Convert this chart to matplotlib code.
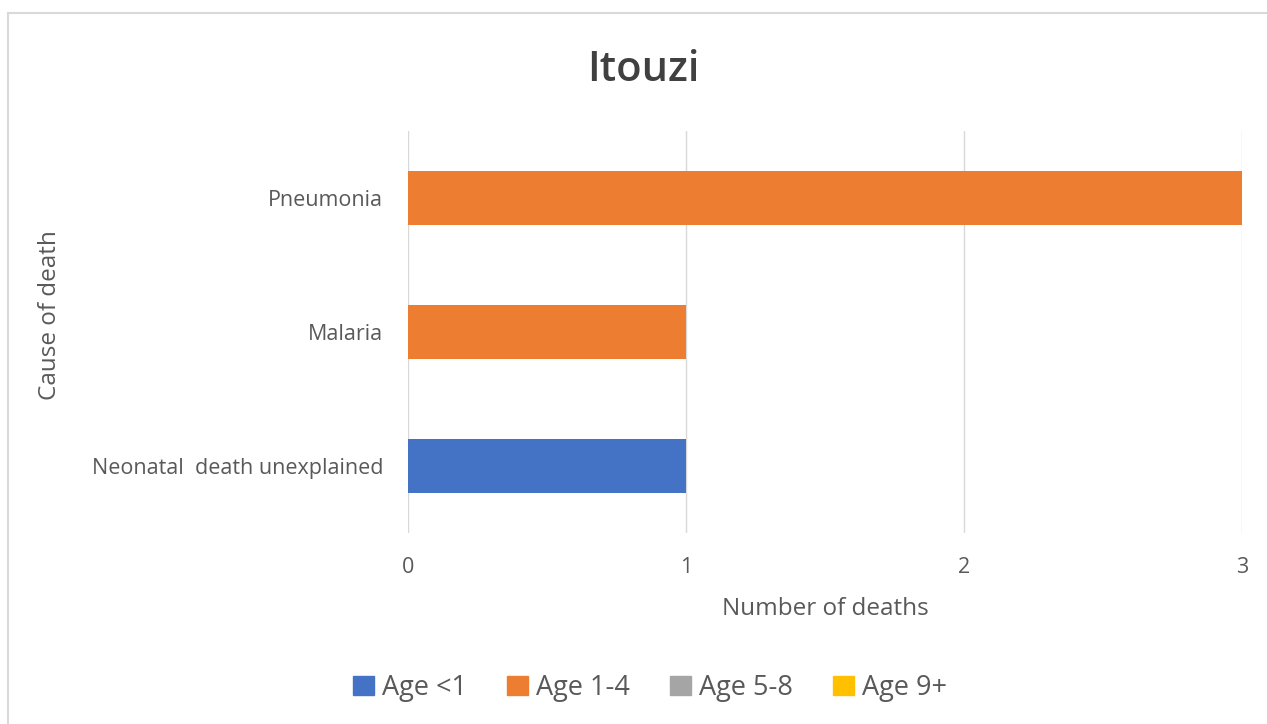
import matplotlib
matplotlib.use("Agg")
import matplotlib.pyplot as plt
import numpy as np
from matplotlib.patches import Rectangle

plt.rcParams['font.family'] = ['Open Sans', 'DejaVu Sans']

causes = ["Neonatal  death unexplained", "Malaria", "Pneumonia"]
series_names = ["Age <1", "Age 1-4", "Age 5-8", "Age 9+"]
age_lt1 = [1, 0, 0]
age_1_4 = [0, 1, 3]
age_5_8 = [0, 0, 0]
age_9p = [0, 0, 0]
colors = ["#4472C4", "#ED7D31", "#A5A5A5", "#FFC000"]
xticks = [0, 1, 2, 3]

fig = plt.figure(figsize=(12.67, 7.24), dpi=100)
fig.patch.set_facecolor("white")
# chart border (top and left visible)
fig.add_artist(plt.Line2D([8/1267, 1.0], [1 - 13/724, 1 - 13/724], color="#D9D9D9", lw=1.5, transform=fig.transFigure))
fig.add_artist(plt.Line2D([8/1267, 8/1267], [0, 1 - 13/724], color="#D9D9D9", lw=1.5, transform=fig.transFigure))

ax = fig.add_axes([408/1267, 1 - 533/724, (1242 - 408)/1267, (533 - 131)/724])
y = np.arange(len(causes))
left = np.zeros(len(causes))
for name, vals, c in zip(series_names, [age_lt1, age_1_4, age_5_8, age_9p], colors):
    ax.barh(y, vals, height=0.4, left=left, color=c, label=name, zorder=3)
    left += np.array(vals)

ax.set_xlim(0, 3)
ax.set_ylim(-0.5, 2.5)
ax.set_yticks(y)
ax.set_yticklabels(causes, fontsize=15.5, color="#595959")
ax.set_xticks(xticks)
ax.set_xticklabels([str(t) for t in xticks], fontsize=15.5, color="#595959")
ax.tick_params(length=0)
ax.tick_params(axis='x', pad=17)
ax.tick_params(axis='y', pad=18)
ax.grid(axis='x', color="#D9D9D9", lw=1, zorder=0)
for s in ax.spines.values():
    s.set_visible(False)

ax.set_xlabel("Number of deaths", fontsize=17.5, color="#595959", labelpad=14)
fig.text(50/1267, 1 - 315/724, "Cause of death", rotation=90, fontsize=17.5, color="#595959", ha='center', va='center')
fig.text(643/1267, 1 - 70/724, "Itouzi", fontsize=30, fontweight='semibold', color="#404040", ha='center', va='center')

handles = [Rectangle((0, 0), 1, 1, color=c) for c in colors]
fig.legend(handles, series_names, loc='center', bbox_to_anchor=(650/1267, 1 - 688/724), ncol=4, frameon=False,
           fontsize=19.5, handlelength=0.75, handleheight=0.75, handletextpad=0.3, columnspacing=1.5, labelcolor="#595959")

fig.savefig("out.png", dpi=100, facecolor="white")
